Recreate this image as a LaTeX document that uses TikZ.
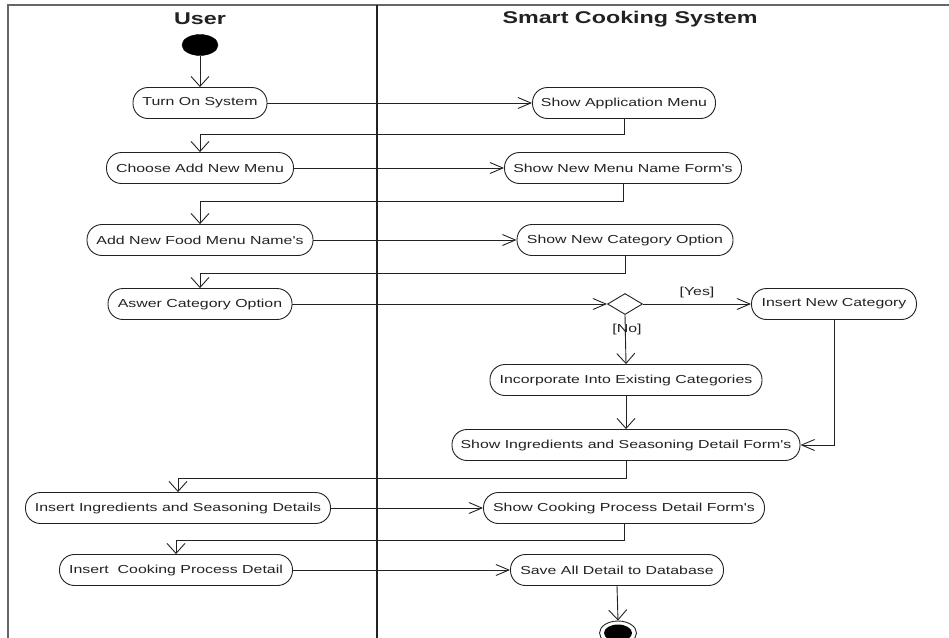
\documentclass[tikz,border=0pt]{standalone}
\usepackage{fontspec}
\setmainfont{Liberation Sans}
\usetikzlibrary{shapes.geometric,arrows.meta}
\newcommand{\hx}[1]{\scalebox{1.37}[1]{#1}}
\newcommand{\aq}{\textquotesingle}
\definecolor{ink}{HTML}{222222}
\tikzset{
  act/.style={draw=ink, line width=0.9pt, rectangle, rounded corners=15pt, minimum height=31pt, inner sep=0pt, text=ink, font=\fontsize{11.6}{13}\selectfont},
  lane/.style={font=\bfseries\fontsize{17}{19}\selectfont, text=ink, inner sep=0pt},
  glabel/.style={font=\fontsize{11.6}{13}\selectfont, text=ink, inner sep=0pt},
  flow/.style={draw=ink, line width=0.9pt},
  varr/.style={flow, -{Straight Barb[length=10pt,width=18pt,line width=0.9pt]}},
  harr/.style={flow, -{Straight Barb[length=13pt,width=11pt,line width=0.9pt]}},
}
\begin{document}
\begin{tikzpicture}[x=1pt,y=-1pt]
\useasboundingbox (0,0) rectangle (949,637);
\clip (0,0) rectangle (949,637);
% frame
\draw[draw=gray!80!black, line width=1.3pt] (8,700) -- (8,5) -- (960,5);
\draw[draw=ink, line width=1.8pt] (377,5) -- (377,700);
\node[lane] (uTitle) at (200,19) {\hx{User}};
\node[lane] (sTitle) at (630,19) {\hx{Smart Cooking System}};
% start / end
\node[ellipse, fill=black, draw=black, minimum width=36pt, minimum height=21pt, inner sep=0pt] (start) at (200,45) {};
\node[ellipse, draw=ink, line width=0.9pt, minimum width=37pt, minimum height=24pt, inner sep=0pt] (end) at (618,633) {};
\node[ellipse, fill=black, minimum width=28pt, minimum height=17pt, inner sep=0pt] (endin) at (618,633) {};
% activities
\node[act, minimum width=134pt] (tos) at (200,103) {\hx{Turn On System}};
\node[act, minimum width=183pt] (sam) at (624,103) {\hx{Show Application Menu}};
\node[act, minimum width=187pt] (cam) at (200,168) {\hx{Choose Add New Menu}};
\node[act, minimum width=237pt] (snm) at (623,168) {\hx{Show New Menu Name Form\aq s}};
\node[act, minimum width=226pt] (afm) at (200,240) {\hx{Add New Food Menu Name\aq s}};
\node[act, minimum width=216pt] (snc) at (625,240) {\hx{Show New Category Option}};
\node[act, minimum width=184pt] (aco) at (200,304) {\hx{Aswer Category Option}};
\node[diamond, draw=ink, line width=0.9pt, minimum width=35pt, minimum height=21pt, inner sep=0pt] (dec) at (625,304) {};
\node[act, minimum width=165pt] (inc) at (834,304) {\hx{Insert New Category}};
\node[act, minimum width=272pt] (ice) at (626,380) {\hx{Incorporate Into Existing Categories}};
\node[act, minimum width=348pt] (sif) at (626,445) {\hx{Show Ingredients and Seasoning Detail Form\aq s}};
\node[act, minimum width=305pt] (iis) at (178,508) {\hx{Insert Ingredients and Seasoning Details}};
\node[act, minimum width=281pt] (scp) at (624,508) {\hx{Show Cooking Process Detail Form\aq s}};
\node[act, minimum width=233pt] (icp) at (176,570) {\hx{Insert\ \ Cooking Process Detail}};
\node[act, minimum width=213pt] (sad) at (617,570) {\hx{Save All Detail to Database}};
% labels
\node[glabel] (yes) at (697,292) {\hx{[Yes]}};
\node[glabel] (no) at (627,329) {\hx{[No]}};
% flows
\draw[varr] (start) -- (tos);
\draw[harr] (tos) -- (sam);
\draw[varr] (sam.south) -- ++(0,15) -| (cam.north);
\draw[harr] (cam) -- (snm);
\draw[varr] (snm.south) -- ++(0,17) -| (afm.north);
\draw[harr] (afm) -- (snc);
\draw[varr] (snc.south) -- ++(0,17) -| (aco.north);
\draw[harr] (aco) -- (dec.west);
\draw[harr] (dec.east) -- (inc);
\draw[varr] (dec.south) -- (ice.north);
\draw[varr] (ice) -- (sif);
\draw[harr] (inc.south) |- (sif.east);
\draw[varr] (sif.south) -- ++(0,17) -| (iis.north);
\draw[harr] (iis) -- (scp);
\draw[varr] (scp.south) -- ++(0,16) -| (icp.north);
\draw[harr] (icp) -- (sad);
\draw[varr] (sad.south) -- (end.north);
\end{tikzpicture}
\end{document}
